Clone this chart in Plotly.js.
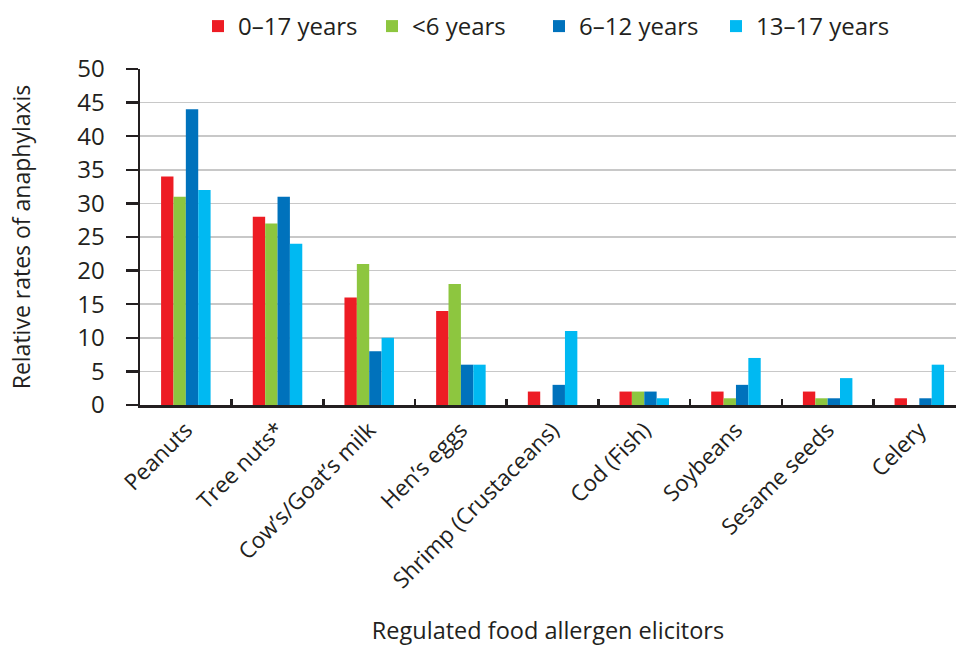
<!DOCTYPE html>
<html>
<head>
<meta charset="utf-8">
<script src="https://cdn.plot.ly/plotly-3.0.1.min.js"></script>
<style>html,body{margin:0;padding:0;background:#fff;}#chart{width:956px;height:646px;}</style>
</head>
<body>
<div id="chart"></div>
<script>
const categories = ["Peanuts", "Tree nuts*", "Cow’s/Goat’s milk", "Hen’s eggs", "Shrimp (Crustaceans)", "Cod (Fish)", "Soybeans", "Sesame seeds", "Celery"];
const seriesNames = ["0–17 years", "<6 years", "6–12 years", "13–17 years"];
const age0to17 = [34, 28, 16, 14, 2, 2, 2, 2, 1];
const ageUnder6 = [31, 27, 21, 18, 0, 2, 1, 1, 0];
const age6to12 = [44, 31, 8, 6, 3, 2, 3, 1, 1];
const age13to17 = [32, 24, 10, 6, 11, 1, 7, 4, 6];
const yTicks = [0, 5, 10, 15, 20, 25, 30, 35, 40, 45, 50];

const colors = ["#ED1C24", "#8DC63F", "#0072BC", "#00B9F2"];
const seriesValues = [age0to17, ageUnder6, age6to12, age13to17];
const legendIds = ["legend", "legend2", "legend3", "legend4"];
const legendX = [198, 372, 539, 716];
const font = "Open Sans, Noto Sans, sans-serif";
const ink = "#231f20";

const traces = seriesValues.map((vals, i) => ({
  type: "bar",
  name: seriesNames[i],
  x: categories,
  y: vals,
  legend: legendIds[i],
  marker: {color: colors[i], line: {width: 0}},
  hoverinfo: "x+y+name"
}));

const layout = {
  width: 956,
  height: 646,
  margin: {l: 140, r: 0, t: 69, b: 241},
  paper_bgcolor: "#fff",
  plot_bgcolor: "#fff",
  font: {family: font, color: ink, size: 22},
  barmode: "group",
  bargap: 0.46,
  bargroupgap: 0,
  showlegend: true,
  xaxis: {
    type: "category",
    range: [-0.5, 8.4],
    showline: true, linecolor: ink, linewidth: 3,
    ticks: "inside", tickson: "boundaries", ticklen: 6, tickwidth: 2.5, tickcolor: ink,
    tickangle: -45,
    tickfont: {family: font, size: 22.5, color: ink},
    showgrid: false,
    zeroline: false,
    title: {text: "Regulated food allergen elicitors", font: {family: font, size: 23.5, color: ink}, standoff: 30}
  },
  yaxis: {
    range: [0, 50],
    tickvals: yTicks,
    ticktext: yTicks.map(String),
    showline: true, linecolor: ink, linewidth: 2.5,
    ticks: "outside", ticklen: 12, tickwidth: 2.5, tickcolor: ink,
    ticklabelstandoff: 16,
    tickfont: {family: font, size: 24, color: ink},
    showgrid: true, gridcolor: "#c8c8c8", gridwidth: 1.5,
    zeroline: false,
    title: {text: "Relative rates of anaphylaxis", font: {family: font, size: 23, color: ink}, standoff: 40}
  }
};
legendIds.forEach((id, i) => {
  layout[id] = {
    orientation: "h",
    x: legendX[i] / 956, xref: "container", xanchor: "left",
    y: 1 - 4 / 646, yref: "container", yanchor: "top",
    font: {family: font, size: 24, color: ink},
    bgcolor: "rgba(0,0,0,0)",
    itemwidth: 30
  };
});

Plotly.newPlot("chart", traces, layout, {displayModeBar: false, staticPlot: true});
</script>
</body>
</html>
